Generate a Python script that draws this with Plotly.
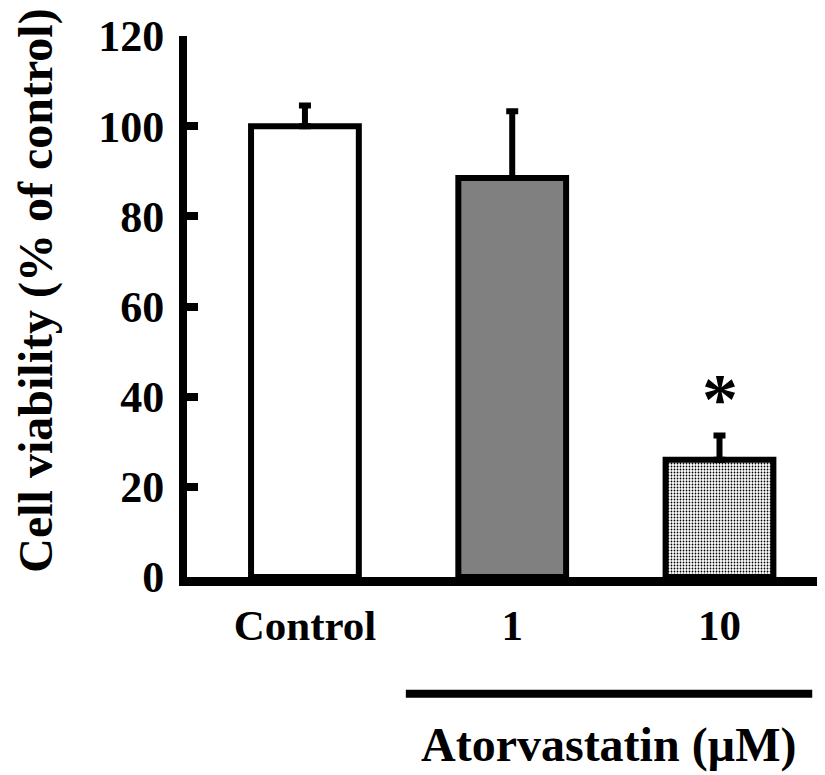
import plotly.graph_objects as go

categories = ["Control", "1", "10"]
viability = [100.0, 88.5, 26.0]
sem_upper = [4.6, 14.8, 5.4]
significance = ["", "", "*"]
y_ticks = [0, 20, 40, 60, 80, 100, 120]
x_title = "Atorvastatin (µM)"
y_title = "Cell viability (% of control)"

FONT = "Liberation Serif"

fig = go.Figure()
fig.add_trace(go.Bar(
    x=categories,
    y=viability,
    width=0.52,
    marker=dict(
        color=["white", "#808080", "black"],
        line=dict(color="black", width=6),
        pattern=dict(shape=["", "", "."], fgcolor="white", bgcolor="black",
                     fillmode="replace", size=3, solidity=0.28),
    ),
    error_y=dict(type="data", symmetric=False, array=sem_upper,
                 arrayminus=[0] * len(sem_upper),
                 color="black", thickness=6, width=6),
    showlegend=False,
))

for i, (v, e, s) in enumerate(zip(viability, sem_upper, significance)):
    if s:
        fig.add_annotation(x=i, y=v + e, text=s, showarrow=False,
                           yanchor="bottom", yshift=-6,
                           font=dict(family=FONT, size=72, color="black", weight="bold"))

fig.add_annotation(xref="paper", yref="paper", x=0.661, y=-0.31, text=x_title,
                   showarrow=False, xanchor="center", yanchor="middle",
                   font=dict(family=FONT, size=48, color="black", weight="bold"))

fig.add_annotation(xref="paper", yref="paper", x=-0.236, y=0.53, text=y_title,
                   textangle=-90, showarrow=False, xanchor="center", yanchor="middle",
                   font=dict(family=FONT, size=48, color="black", weight="bold"))

fig.add_shape(type="line", xref="paper", yref="paper", x0=0.343, x1=0.98,
              y0=-0.216, y1=-0.216, line=dict(color="black", width=8))

fig.update_layout(
    width=825, height=775,
    margin=dict(l=179, r=8, t=28, b=206, autoexpand=False),
    paper_bgcolor="white", plot_bgcolor="white",
    font=dict(family=FONT, color="black"),
    xaxis=dict(
        type="category", range=[-0.569, 2.509],
        showline=True, linecolor="black", linewidth=9,
        ticks="", showgrid=False, zeroline=False,
        tickfont=dict(family=FONT, size=43, color="black", weight="bold"),
        ticklabelstandoff=2,
    ),
    yaxis=dict(
        range=[0, 120], tickvals=y_ticks,
        showline=True, linecolor="black", linewidth=8,
        ticks="inside", ticklen=11, tickwidth=8, tickcolor="black",
        showgrid=False, zeroline=False,
        tickfont=dict(family=FONT, size=44, color="black", weight="bold"),
        ticklabelstandoff=6,
    ),
    bargap=0.5,
)

fig.write_html("out.html")
